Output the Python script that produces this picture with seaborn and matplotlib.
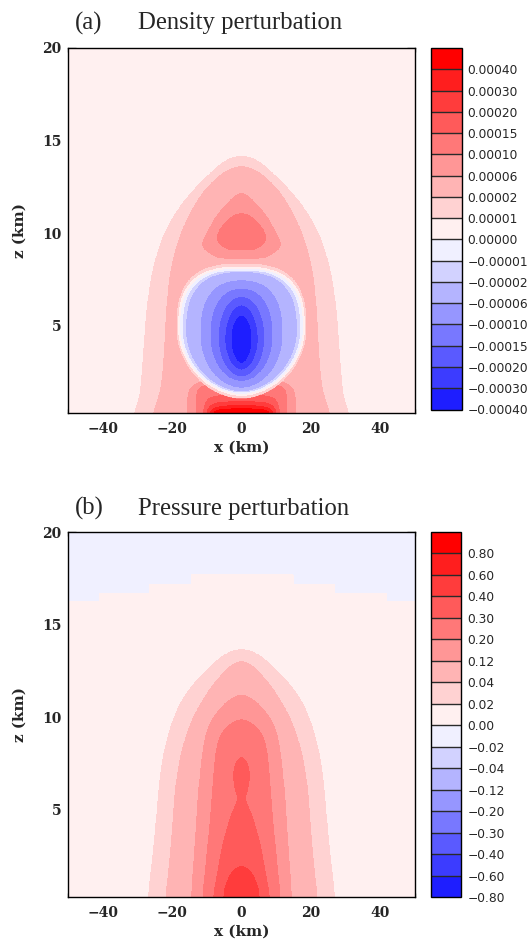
import numpy as np
import matplotlib
matplotlib.use("Agg")
import matplotlib.pyplot as plt
from matplotlib.path import Path
from matplotlib.ticker import MultipleLocator, FixedLocator
import seaborn as sns

sns.set_style("ticks")

# ---------------------------------------------------------------- levels
density_levels = [-0.00040, -0.00030, -0.00020, -0.00015, -0.00010, -0.00006,
                  -0.00002, -0.00001, 0.00000, 0.00001, 0.00002, 0.00006,
                  0.00010, 0.00015, 0.00020, 0.00030, 0.00040]
density_top = 0.00050
pressure_levels = [-0.80, -0.60, -0.40, -0.30, -0.20, -0.12, -0.04, -0.02,
                   0.00, 0.02, 0.04, 0.12, 0.20, 0.30, 0.40, 0.60, 0.80]
pressure_top = 1.00

# ------------------------------------------- density: contour outlines (km)
# each outline: heights z and half-widths |x| of the region above a level
dens_arch1_z = [0.3, 1.0, 2.0, 4.0, 6.0, 8.0, 10.2, 12.0, 13.4, 14.0, 14.2]
dens_arch1_w = [31.0, 29.5, 28.8, 28.0, 27.2, 25.7, 22.0, 15.6, 8.1, 4.0, 0.0]
dens_arch2_z = [0.3, 1.0, 2.0, 4.0, 6.0, 8.0, 10.2, 12.0, 12.9, 13.4, 13.65]
dens_arch2_w = [25.5, 24.0, 22.8, 22.0, 21.5, 20.5, 17.2, 12.0, 7.6, 4.0, 0.0]
dens_cap1_z = [8.65, 8.8, 9.3, 10.0, 11.0, 11.6, 12.0, 12.19]
dens_cap1_w = [5.5, 8.2, 11.7, 10.0, 7.0, 4.0, 2.0, 0.0]
dens_cap2_z = [9.1, 9.3, 9.5, 9.82, 10.2, 10.54, 10.9, 11.11]
dens_cap2_w = [3.5, 5.5, 6.6, 7.1, 6.2, 4.8, 2.8, 0.0]
dens_ground1_z = [0.3, 2.0, 2.3]
dens_ground1_w = [15.5, 15.3, 0.0]
dens_ground2_z = [0.3, 1.0, 1.8, 2.1]
dens_ground2_w = [13.0, 13.0, 12.5, 0.0]
dens_ground3_z = [0.3, 0.8, 1.2, 1.35]
dens_ground3_w = [11.0, 10.5, 9.0, 0.0]
dens_ground4_z = [0.3, 0.6, 0.85, 0.95]
dens_ground4_w = [10.0, 9.5, 7.5, 0.0]
dens_ground5_z = [0.3, 0.5, 0.65, 0.72]
dens_ground5_w = [9.0, 8.5, 6.5, 0.0]
dens_ground6_z = [0.3, 0.4, 0.5, 0.55]
dens_ground6_w = [8.0, 7.5, 5.5, 0.0]

# negative bubble: region below each level
blob_levels = [0.00002, 0.00001, 0.00000, -0.00001, -0.00002, -0.00006,
               -0.00010, -0.00015, -0.00020, -0.00030]
blob_halfwidth = [18.9, 18.4, 17.8, 17.1, 16.1, 12.0, 9.1, 6.7, 4.75, 3.0]
blob_top = [8.4, 8.22, 8.12, 8.02, 7.92, 7.48, 7.03, 6.58, 6.13, 5.59]
blob_bottom = [1.05, 1.2, 1.3, 1.38, 1.46, 1.64, 2.0, 2.26, 2.62, 2.98]
blob_widest = [4.8, 4.8, 4.8, 4.75, 4.7, 4.55, 4.45, 4.35, 4.3, 4.3]
blob_p_top = [2.8, 2.8, 2.75, 2.7, 2.65, 2.5, 2.3, 2.1, 2.0, 2.0]
blob_p_bottom = [1.9, 1.9, 1.9, 1.9, 1.9, 2.0, 2.0, 2.0, 2.0, 2.0]

# ------------------------------------------ pressure: contour outlines (km)
pres_top_x_edges = [-50.0, -40.8, -26.4, -14.4, 14.9, 26.9, 41.8, 50.0]
pres_top_z = [16.25, 16.7, 17.2, 17.7, 17.2, 16.7, 16.25]
pres_arch1_z = [0.3, 3.2, 7.0, 9.5, 11.3, 12.7, 13.4, 13.72]
pres_arch1_w = [27.0, 25.0, 23.5, 20.6, 16.3, 9.1, 5.0, 0.0]
pres_arch2_z = [0.3, 3.2, 7.0, 9.5, 11.3, 12.19, 12.8, 13.05]
pres_arch2_w = [21.8, 20.1, 18.7, 15.3, 10.0, 6.2, 3.0, 0.0]
pres_arch3_z = [0.3, 3.2, 7.0, 9.5, 10.57, 11.0, 11.26]
pres_arch3_w = [14.5, 13.3, 12.0, 10.0, 5.7, 3.0, 0.0]
pres_arch4_z = [0.3, 2.0, 4.0, 6.0, 7.5, 8.5, 9.14, 9.6, 9.94]
pres_arch4_w = [11.2, 10.2, 9.2, 8.3, 7.7, 7.0, 5.7, 3.5, 0.0]
pres_arch5_z = [0.3, 1.5, 3.2, 4.2, 4.82, 5.3, 5.63, 6.0, 6.5, 7.0, 7.5, 7.91]
pres_arch5_w = [8.1, 7.0, 5.3, 3.8, 2.7, 1.6, 1.0, 1.6, 2.2, 2.3, 1.8, 0.0]
pres_arch6_z = [0.3, 0.8, 1.3, 1.7, 2.03]
pres_arch6_w = [5.1, 4.7, 3.8, 2.5, 0.0]

# ---------------------------------------------------------------- palette
band_colors = ['#1e1eff', '#3c3cff', '#5a5aff', '#7878ff', '#9696ff', '#b4b4ff',
               '#d2d2ff', '#f0f0ff', '#fff0f0', '#ffd2d2', '#ffb4b4', '#ff9696',
               '#ff7878', '#ff5a5a', '#ff3c3c', '#ff1e1e', '#ff0000']

# ---------------------------------------------------------------- grid
x = np.linspace(-50, 50, 1001)
z = np.linspace(0.3, 20, 789)
xx, zz = np.meshgrid(x, z)
grid_pts = np.column_stack([xx.ravel(), zz.ravel()])


def chaikin(pts, n=4):
    """Corner-cutting smoothing of a closed polygon."""
    for _ in range(n):
        nxt = np.roll(pts, -1, axis=0)
        q = 0.75 * pts + 0.25 * nxt
        r = 0.25 * pts + 0.75 * nxt
        pts = np.empty((2 * len(q), 2))
        pts[0::2] = q
        pts[1::2] = r
    return pts


def outline_mask(oz, ow):
    oz = list(oz)
    ow = list(ow)
    if oz[0] <= 0.3:               # reaches the ground: extend below the axis
        oz = [-1.5] + oz
        ow = [ow[0]] + ow
    left = [(-w, h) for h, w in zip(oz, ow)]
    right = [(w, h) for h, w in zip(oz[::-1], ow[::-1]) if w > 0]
    poly = chaikin(np.array(left + right, dtype=float))
    return Path(poly).contains_points(grid_pts).reshape(xx.shape)


def paint_outline(band, idx, oz, ow):
    band[outline_mask(oz, ow)] = idx


def paint_blob(band, idx, half, top, bottom, widest, p_top, p_bot):
    dz = zz - widest
    h = np.where(dz >= 0, top - widest, widest - bottom)
    p = np.where(dz >= 0, p_top, p_bot)
    r = np.abs(dz) / h
    w = np.zeros_like(zz)
    inside = r < 1
    w[inside] = half * (1 - r[inside] ** p[inside]) ** (1 / p[inside])
    band[np.abs(xx) < w] = idx


def band_values(band, levels, top):
    bounds = np.array(levels + [top])
    mids = 0.5 * (bounds[:-1] + bounds[1:])
    return mids[band]


# density field
d_idx = {v: i for i, v in enumerate(density_levels)}
dband = np.full(xx.shape, d_idx[0.0], dtype=int)
paint_outline(dband, d_idx[0.00001], dens_arch1_z, dens_arch1_w)
paint_outline(dband, d_idx[0.00002], dens_arch2_z, dens_arch2_w)
paint_outline(dband, d_idx[0.00006], dens_cap1_z, dens_cap1_w)
paint_outline(dband, d_idx[0.00010], dens_cap2_z, dens_cap2_w)
for lev, oz, ow in [(0.00006, dens_ground1_z, dens_ground1_w),
                    (0.00010, dens_ground2_z, dens_ground2_w),
                    (0.00015, dens_ground3_z, dens_ground3_w),
                    (0.00020, dens_ground4_z, dens_ground4_w),
                    (0.00030, dens_ground5_z, dens_ground5_w),
                    (0.00040, dens_ground6_z, dens_ground6_w)]:
    paint_outline(dband, d_idx[lev], oz, ow)
for k, lev in enumerate(blob_levels):
    paint_blob(dband, d_idx[lev] - 1, blob_halfwidth[k], blob_top[k],
               blob_bottom[k], blob_widest[k], blob_p_top[k], blob_p_bottom[k])
density = band_values(dband, density_levels, density_top)

# pressure field
p_idx = {v: i for i, v in enumerate(pressure_levels)}
pband = np.full(xx.shape, p_idx[0.0], dtype=int)
col = np.clip(np.searchsorted(pres_top_x_edges, xx, side='right') - 1, 0,
              len(pres_top_z) - 1)
pband[zz >= np.array(pres_top_z)[col]] = p_idx[-0.02]
for lev, oz, ow in [(0.02, pres_arch1_z, pres_arch1_w),
                    (0.04, pres_arch2_z, pres_arch2_w),
                    (0.12, pres_arch3_z, pres_arch3_w),
                    (0.20, pres_arch4_z, pres_arch4_w),
                    (0.30, pres_arch5_z, pres_arch5_w),
                    (0.40, pres_arch6_z, pres_arch6_w)]:
    paint_outline(pband, p_idx[lev], oz, ow)
pressure = band_values(pband, pressure_levels, pressure_top)

# ---------------------------------------------------------------- figure
W, H = 528, 943
fig = plt.figure(figsize=(W / 100, H / 100), dpi=100)


def px_axes(left, top, right, bottom):
    return fig.add_axes([left / W, 1 - bottom / H, (right - left) / W,
                         (bottom - top) / H])


tick_font = dict(family='DejaVu Serif', weight='bold', size=10)
label_font = dict(family='DejaVu Serif', weight='bold', size=11)


def fmt(v, nd):
    s = f"{v:.{nd}f}"
    if float(s) == 0:
        s = s.lstrip('-')
    return s.replace('-', '\u2212')


def draw_panel(ax, cax, field, levels, top, nd, tag, title, title_y):
    cs = ax.contourf(x, z, field, levels=levels + [top], colors=band_colors)
    ax.set_xlim(-50, 50)
    ax.set_ylim(0.3, 20)
    ax.xaxis.set_major_locator(FixedLocator([-40, -20, 0, 20, 40]))
    ax.xaxis.set_minor_locator(MultipleLocator(5))
    ax.yaxis.set_major_locator(FixedLocator([5, 10, 15, 20]))
    ax.yaxis.set_minor_locator(MultipleLocator(1))
    ax.tick_params(which='both', direction='in', top=True, right=True,
                   width=0.9, color='black')
    ax.tick_params(which='major', length=5.5)
    ax.tick_params(which='minor', length=3)
    ax.tick_params(axis='x', which='major', pad=6.5)
    ax.tick_params(axis='y', which='major', pad=4.5)
    ax.set_xticklabels([fmt(v, 0) for v in [-40, -20, 0, 20, 40]], **tick_font)
    ax.set_yticklabels(['5', '10', '15', '20'], **tick_font)
    ax.set_xlabel('x (km)', **label_font)
    ax.set_ylabel('z (km)', **label_font)
    ax.xaxis.set_label_coords(0.5, -0.075)
    ax.yaxis.set_label_coords(-0.118, 0.5)
    for s in ax.spines.values():
        s.set_linewidth(1.0)
        s.set_color('black')

    cb = fig.colorbar(cs, cax=cax, spacing='uniform', ticks=levels,
                      drawedges=True)
    cb.set_ticklabels([fmt(v, nd) for v in levels])
    cax.tick_params(length=0, pad=4.5, labelsize=8.8)
    for t in cax.get_yticklabels():
        t.set_family('DejaVu Sans')
    cb.dividers.set_color('#2a2a2a')
    cb.dividers.set_linewidth(1.0)
    cb.outline.set_linewidth(1.0)
    cb.outline.set_edgecolor('black')

    fig.text(75 / W, 1 - title_y / H, tag, family='Liberation Serif',
             size=17.8, va='baseline', ha='left')
    fig.text(138 / W, 1 - title_y / H, title, family='Liberation Serif',
             size=17.8, va='baseline', ha='left')


ax_a = px_axes(68, 48, 415, 413)
cax_a = px_axes(431, 48, 461.5, 409.5)
draw_panel(ax_a, cax_a, density, density_levels, density_top, 5,
           '(a)', 'Density perturbation', 29.5)

ax_b = px_axes(68, 532, 415, 897)
cax_b = px_axes(431, 532, 461, 897)
draw_panel(ax_b, cax_b, pressure, pressure_levels, pressure_top, 2,
           '(b)', 'Pressure perturbation', 515)

fig.savefig('out.png', dpi=100)
